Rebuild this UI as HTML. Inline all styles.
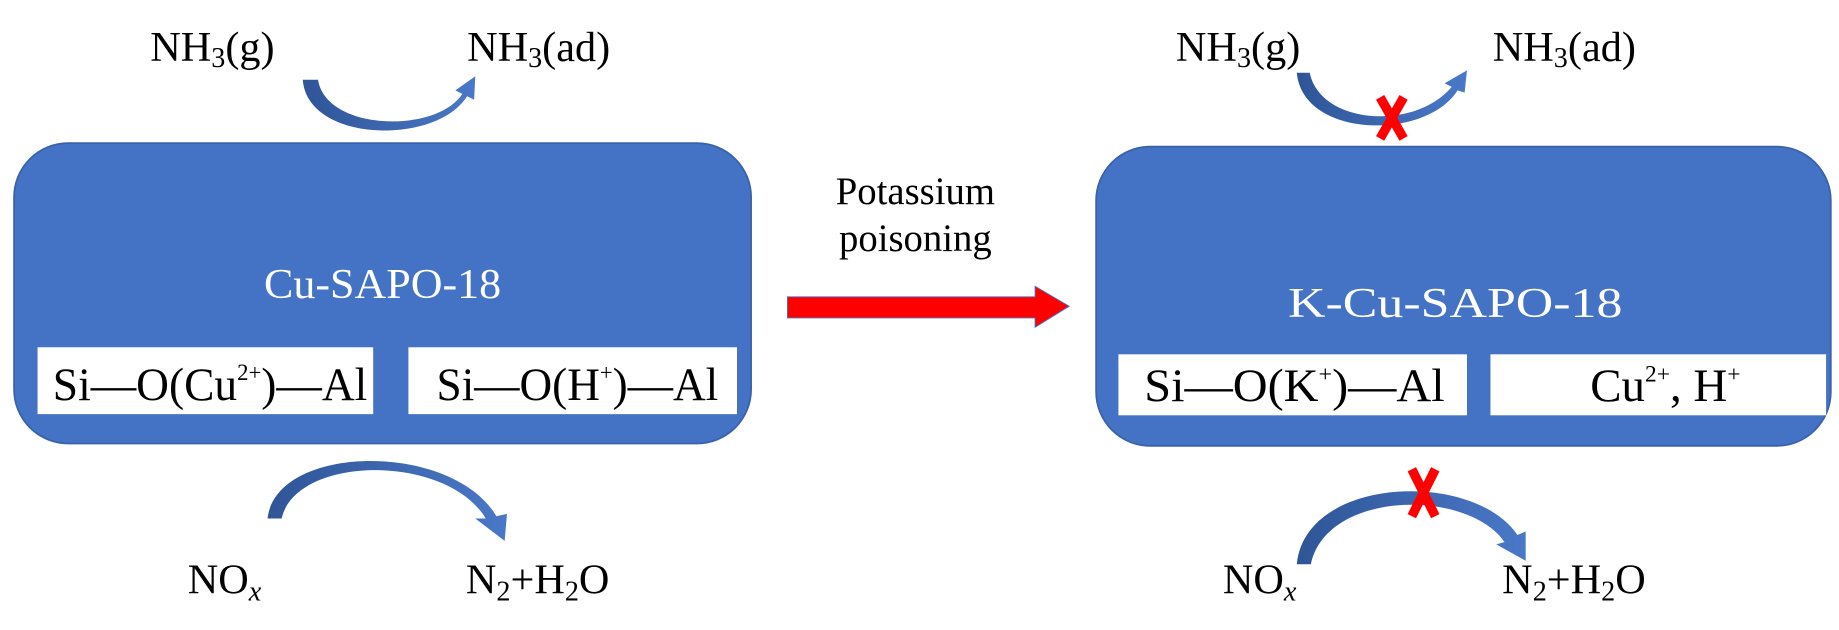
<!DOCTYPE html>
<html><head><meta charset="utf-8"><style>
html,body{margin:0;padding:0;background:#fff;}
svg{display:block;}
text{font-family:"Liberation Serif",serif;}
</style></head><body>
<svg width="1839" height="630" viewBox="0 0 1567 537" preserveAspectRatio="none" xmlns="http://www.w3.org/2000/svg">
<defs>
<linearGradient id="g" x1="0" y1="0" x2="1" y2="0">
<stop offset="0" stop-color="#2f5597"/><stop offset="1" stop-color="#4a78c8"/>
</linearGradient>
</defs>
<!-- Left box -->
<rect x="12" y="122" width="628" height="256" rx="46" fill="#4472c4" stroke="#3a62a8" stroke-width="1.5"/>
<text x="326" y="254" font-size="36" fill="#fff" text-anchor="middle" textLength="202" lengthAdjust="spacingAndGlyphs">Cu-SAPO-18</text>
<rect x="32" y="296" width="286" height="57" fill="#fff"/>
<rect x="348" y="296" width="280" height="57" fill="#fff"/>
<text x="45" y="341" font-size="40" textLength="268" lengthAdjust="spacingAndGlyphs">Si—O(Cu<tspan font-size="20" dy="-17">2+</tspan><tspan dy="17">)—Al</tspan></text>
<text x="372" y="341" font-size="40" textLength="240" lengthAdjust="spacingAndGlyphs">Si—O(H<tspan font-size="20" dy="-17">+</tspan><tspan dy="17">)—Al</tspan></text>

<!-- Right box -->
<rect x="934" y="125" width="626" height="255" rx="46" fill="#4472c4" stroke="#3a62a8" stroke-width="1.5"/>
<text x="1240" y="270" font-size="36" fill="#fff" text-anchor="middle" textLength="285" lengthAdjust="spacingAndGlyphs">K-Cu-SAPO-18</text>
<rect x="953" y="302" width="297" height="52" fill="#fff"/>
<rect x="1270" y="302" width="286" height="52" fill="#fff"/>
<text x="975" y="342" font-size="40" textLength="256" lengthAdjust="spacingAndGlyphs">Si—O(K<tspan font-size="20" dy="-17">+</tspan><tspan dy="17">)—Al</tspan></text>
<text x="1355" y="342" font-size="40">Cu<tspan font-size="20" dy="-17">2+</tspan><tspan dy="17">, H</tspan><tspan font-size="20" dy="-17">+</tspan></text>

<!-- Top labels -->
<text x="128" y="52" font-size="36">NH<tspan font-size="24" dy="5">3</tspan><tspan dy="-5">(g)</tspan></text>
<text x="398" y="52" font-size="36">NH<tspan font-size="24" dy="5">3</tspan><tspan dy="-5">(ad)</tspan></text>
<text x="1002" y="52" font-size="36">NH<tspan font-size="24" dy="5">3</tspan><tspan dy="-5">(g)</tspan></text>
<text x="1272" y="52" font-size="36">NH<tspan font-size="24" dy="5">3</tspan><tspan dy="-5">(ad)</tspan></text>

<!-- Bottom labels -->
<text x="160" y="506" font-size="36">NO<tspan font-size="24" font-style="italic" dy="6">x</tspan></text>
<text x="397" y="506" font-size="36">N<tspan font-size="24" dy="6">2</tspan><tspan dy="-6">+H</tspan><tspan font-size="24" dy="6">2</tspan><tspan dy="-6">O</tspan></text>
<text x="1042" y="506" font-size="36">NO<tspan font-size="24" font-style="italic" dy="6">x</tspan></text>
<text x="1280" y="506" font-size="36">N<tspan font-size="24" dy="6">2</tspan><tspan dy="-6">+H</tspan><tspan font-size="24" dy="6">2</tspan><tspan dy="-6">O</tspan></text>

<!-- Left top arrow -->
<path d="M258,68 L271,68 C278,112 372,114 394,80 L388,77 L405,65 L404,85 L398,82 C372,124 262,122 258,68 Z" fill="url(#g)"/>
<!-- Left bottom arrow -->
<path d="M228,442 L240,442 C252,388 380,386 414,442 L405,442 L430,461 L432,438 L423,440 C385,376 235,378 228,442 Z" fill="url(#g)"/>

<!-- Right top arrow -->
<path d="M1105,62 L1116,62 C1125,106 1205,112 1237,74 L1231,71 L1250,60 L1248,79 L1242,77 C1215,120 1110,118 1105,62 Z" fill="url(#g)"/>
<!-- Right bottom arrow -->
<path d="M1105,481 L1117,481 C1130,418 1250,416 1282,462 L1275,464 L1300,478 L1300,453 L1293,456 C1255,400 1112,406 1105,481 Z" fill="url(#g)"/>

<!-- Red X marks -->
<g stroke="#ff0000" stroke-width="8" stroke-linecap="butt">
<line x1="1176" y1="83" x2="1196" y2="118"/>
<line x1="1196" y1="83" x2="1176" y2="118"/>
<line x1="1203" y1="400" x2="1223" y2="440"/>
<line x1="1223" y1="400" x2="1203" y2="440"/>
</g>

<!-- Potassium poisoning -->
<text x="780" y="174" font-size="33" text-anchor="middle">Potassium</text>
<text x="780" y="214" font-size="33" text-anchor="middle">poisoning</text>
<polygon points="671,253 882,253 882,244 911,261 882,279 882,271 671,271" fill="#ff0000" stroke="#4472c4" stroke-width="0.8"/>
</svg>
</body></html>
